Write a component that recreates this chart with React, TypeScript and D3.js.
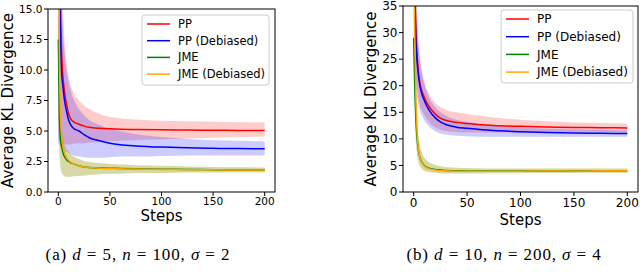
import * as d3 from 'd3'

// step positions shared by every series
const steps = [0, 1, 2, 3, 4, 5, 6, 8, 10, 12, 15, 20, 25, 30, 40, 50, 60, 75, 100, 125, 150, 175, 200]

// (a) d=5, n=100, sigma=2
const ppA = [40, 25, 16, 12, 10, 9, 8.2, 7.2, 6.4, 6.0, 5.75, 5.55, 5.4, 5.3, 5.22, 5.18, 5.15, 5.12, 5.1, 5.08, 5.06, 5.05, 5.05]
const ppAHi = [60, 40, 25, 18, 15.5, 14, 12.5, 10.5, 9.5, 8.8, 8.1, 7.5, 7.1, 6.8, 6.4, 6.15, 6.05, 5.95, 5.85, 5.8, 5.75, 5.72, 5.7]
const ppALo = [4.5, 4.2, 4, 3.9, 3.9, 3.9, 3.9, 3.9, 3.9, 3.9, 3.95, 4, 4, 4.05, 4.1, 4.15, 4.2, 4.25, 4.3, 4.38, 4.45, 4.5, 4.55]
const ppDbA = [40, 20, 13, 10, 9, 8.2, 7.5, 6.6, 5.9, 5.5, 5.2, 5.0, 4.7, 4.45, 4.2, 4.0, 3.88, 3.78, 3.68, 3.62, 3.58, 3.56, 3.55]
const ppDbAHi = [60, 35, 22, 16, 14, 12.5, 11.5, 10, 9, 8.3, 7.6, 6.8, 6.3, 5.9, 5.5, 5.2, 5, 4.75, 4.5, 4.35, 4.25, 4.2, 4.15]
const ppDbALo = [4, 3.9, 3.8, 3.7, 3.6, 3.5, 3.4, 3.3, 3.2, 3.1, 3, 2.9, 2.85, 2.8, 2.8, 2.85, 2.9, 2.9, 2.95, 3, 3, 3, 3]
const jmeA = [12.5, 6.5, 4.5, 3.8, 3.4, 3.1, 2.9, 2.65, 2.5, 2.4, 2.3, 2.15, 2.05, 2, 1.97, 1.95, 1.93, 1.9, 1.87, 1.85, 1.82, 1.8, 1.8]
const jmeAHi = [20, 10, 6.5, 5.2, 4.6, 4.2, 3.9, 3.5, 3.3, 3.1, 2.9, 2.7, 2.55, 2.45, 2.35, 2.3, 2.25, 2.2, 2.15, 2.1, 2.05, 2.02, 2]
const jmeALo = [6, 3, 2, 1.6, 1.45, 1.35, 1.3, 1.25, 1.25, 1.25, 1.3, 1.32, 1.35, 1.4, 1.45, 1.5, 1.5, 1.55, 1.55, 1.6, 1.6, 1.6, 1.6]
const jmeDbA = [30, 12, 6.5, 4.8, 4, 3.5, 3.2, 2.8, 2.6, 2.45, 2.3, 2.15, 2.05, 2, 1.95, 1.92, 1.9, 1.88, 1.85, 1.83, 1.82, 1.8, 1.8]
const jmeDbAHi = [50, 18, 9, 6, 4.8, 4.2, 3.9, 3.5, 3.3, 3.1, 2.9, 2.7, 2.55, 2.45, 2.35, 2.3, 2.25, 2.2, 2.15, 2.1, 2.05, 2.02, 2]
const jmeDbALo = [10, 5, 3, 2, 1.6, 1.4, 1.3, 1.25, 1.25, 1.25, 1.3, 1.32, 1.35, 1.4, 1.45, 1.5, 1.5, 1.55, 1.55, 1.6, 1.6, 1.6, 1.6]

// (b) d=10, n=200, sigma=4
const ppB = [60, 40, 31, 26.5, 23.5, 21.5, 20.3, 18.8, 17.8, 16.9, 15.9, 14.7, 13.9, 13.5, 13.1, 12.9, 12.7, 12.5, 12.35, 12.25, 12.15, 12.1, 12.05]
const ppBHi = [80, 55, 42, 34, 30, 27, 25.2, 22.5, 20.8, 19.5, 18.2, 16.8, 16, 15.5, 15, 14.7, 14.4, 14, 13.6, 13.3, 13.1, 13, 12.9]
const ppBLo = [40, 28, 22, 20, 18.5, 17.2, 16.3, 15.2, 14.5, 13.8, 13, 12.2, 11.7, 11.5, 11.3, 11.2, 11.2, 11.2, 11.2, 11.2, 11.2, 11.2, 11.2]
const ppDbB = [60, 38, 29, 25, 22.8, 21, 19.8, 18.2, 17.2, 16.3, 15.2, 14, 13.2, 12.7, 12.2, 12, 11.8, 11.55, 11.35, 11.2, 11.1, 11.05, 11]
const ppDbBHi = [80, 52, 40, 33, 29, 26.5, 24.5, 22, 20.3, 19, 17.5, 16, 15, 14.4, 13.6, 13.2, 12.9, 12.5, 12.2, 11.9, 11.8, 11.7, 11.6]
const ppDbBLo = [40, 26, 20, 18, 17, 16, 15.2, 14.2, 13.5, 12.9, 12.2, 11.5, 11, 10.8, 10.6, 10.5, 10.4, 10.4, 10.4, 10.4, 10.4, 10.4, 10.4]
const jmeB = [29, 20, 14, 10.5, 8.5, 7.2, 6.4, 5.5, 5, 4.7, 4.45, 4.25, 4.15, 4.05, 4, 3.95, 3.95, 3.95, 3.95, 3.97, 3.98, 4, 4]
const jmeBHi = [36, 27, 20, 14.5, 11.5, 9.8, 8.6, 7.2, 6.5, 6, 5.5, 5.1, 4.85, 4.7, 4.55, 4.5, 4.45, 4.4, 4.4, 4.4, 4.4, 4.4, 4.4]
const jmeBLo = [22, 14, 9.5, 7.2, 6, 5.2, 4.8, 4.3, 4, 3.85, 3.7, 3.6, 3.55, 3.5, 3.5, 3.5, 3.5, 3.52, 3.55, 3.57, 3.58, 3.6, 3.6]
const jmeDbB = [45, 30, 18, 12, 9, 7.4, 6.4, 5.4, 4.9, 4.6, 4.35, 4.15, 4.05, 3.98, 3.92, 3.9, 3.9, 3.9, 3.92, 3.95, 3.97, 3.98, 4]
const jmeDbBHi = [55, 38, 24, 16, 12, 9.8, 8.6, 7.2, 6.5, 6, 5.5, 5.1, 4.85, 4.7, 4.55, 4.5, 4.45, 4.4, 4.4, 4.4, 4.4, 4.4, 4.4]
const jmeDbBLo = [35, 22, 12, 8, 6.2, 5.2, 4.8, 4.3, 4, 3.85, 3.7, 3.6, 3.55, 3.5, 3.5, 3.5, 3.5, 3.52, 3.55, 3.57, 3.58, 3.6, 3.6]

const seriesNames = ['PP', 'PP (Debiased)', 'JME', 'JME (Debiased)']
const seriesColors = ['#ff0000', '#0000ff', '#008000', '#ffa500']
const xTicks = [0, 50, 100, 150, 200]
const yTicksA = [0, 2.5, 5, 7.5, 10, 12.5, 15]
const yTicksB = [0, 5, 10, 15, 20, 25, 30, 35]

type Series = { mean: number[]; hi: number[]; lo: number[] }

const panelA: Series[] = [
  { mean: ppA, hi: ppAHi, lo: ppALo },
  { mean: ppDbA, hi: ppDbAHi, lo: ppDbALo },
  { mean: jmeA, hi: jmeAHi, lo: jmeALo },
  { mean: jmeDbA, hi: jmeDbAHi, lo: jmeDbALo },
]
const panelB: Series[] = [
  { mean: ppB, hi: ppBHi, lo: ppBLo },
  { mean: ppDbB, hi: ppDbBHi, lo: ppDbBLo },
  { mean: jmeB, hi: jmeBHi, lo: jmeBLo },
  { mean: jmeDbB, hi: jmeDbBHi, lo: jmeDbBLo },
]

const font = 'DejaVu Sans, sans-serif'

type PanelProps = {
  id: string
  data: Series[]
  left: number
  right: number
  top: number
  bottom: number
  yMax: number
  yTicks: number[]
  yFmt: (v: number) => string
  tickSize: number
  tickGap: number
  ylabelX: number
  xlabelY: number
  legend: { x: number; y: number; w: number; h: number; rowH: number; fs: number }
}

function Panel(p: PanelProps) {
  const x = d3.scaleLinear().domain([-10, 210]).range([p.left, p.right])
  const y = d3.scaleLinear().domain([0, p.yMax]).range([p.bottom, p.top])
  const line = (vals: number[]) =>
    d3.line<number>().x((_, i) => x(steps[i])).y(v => y(v)).curve(d3.curveMonotoneX)(vals) ?? ''
  const area = (s: Series) =>
    d3.area<number>()
      .x((_, i) => x(steps[i]))
      .y0((_, i) => y(s.lo[i]))
      .y1((_, i) => y(s.hi[i]))
      .curve(d3.curveMonotoneX)(s.mean) ?? ''
  const lg = p.legend
  return (
    <g fontFamily={font}>
      <defs>
        <clipPath id={p.id}>
          <rect x={p.left} y={p.top} width={p.right - p.left} height={p.bottom - p.top} />
        </clipPath>
      </defs>
      <g clipPath={`url(#${p.id})`}>
        {p.data.map((s, i) => (
          <path key={'a' + i} d={area(s)} fill={seriesColors[i]} fillOpacity={0.2} stroke="none" />
        ))}
        {p.data.map((s, i) => (
          <path key={'l' + i} d={line(s.mean)} fill="none" stroke={seriesColors[i]} strokeWidth={1.5} />
        ))}
      </g>
      <rect x={p.left} y={p.top} width={p.right - p.left} height={p.bottom - p.top}
        fill="none" stroke="#000" strokeWidth={1} />
      {xTicks.map(t => (
        <g key={'x' + t} transform={`translate(${x(t)},${p.bottom})`}>
          <line y2={4} stroke="#000" />
          <text y={p.tickGap} textAnchor="middle" fontSize={p.tickSize}>{t}</text>
        </g>
      ))}
      {p.yTicks.map(t => (
        <g key={'y' + t} transform={`translate(${p.left},${y(t)})`}>
          <line x2={-4} stroke="#000" />
          <text x={-5.5} dy="0.35em" textAnchor="end" fontSize={p.tickSize}>{p.yFmt(t)}</text>
        </g>
      ))}
      <text transform={`translate(${p.ylabelX},${(p.top + p.bottom) / 2}) rotate(-90)`}
        textAnchor="middle" fontSize={15}>Average KL Divergence</text>
      <text x={(p.left + p.right) / 2} y={p.xlabelY} textAnchor="middle" fontSize={15}>Steps</text>
      <rect x={lg.x} y={lg.y} width={lg.w} height={lg.h} rx={3} fill="#fff" fillOpacity={0.8}
        stroke="#cccccc" />
      {seriesNames.map((n, i) => {
        const cy = lg.y + 9 + i * lg.rowH
        return (
          <g key={n}>
            <line x1={lg.x + 5} x2={lg.x + 28} y1={cy} y2={cy} stroke={seriesColors[i]} strokeWidth={1.5} />
            <text x={lg.x + 36} y={cy} dy="0.35em" fontSize={lg.fs}>{n}</text>
          </g>
        )
      })}
    </g>
  )
}

function Caption({ cx, label, d, n, s }: { cx: number; label: string; d: number; n: number; s: number }) {
  return (
    <text x={cx} y={260} textAnchor="middle" fontFamily="Liberation Serif, serif" fontSize={17}
      letterSpacing={0.9}>
      <tspan>{label} </tspan>
      <tspan fontStyle="italic">d</tspan>
      <tspan>{` = ${d}, `}</tspan>
      <tspan fontStyle="italic">n</tspan>
      <tspan>{` = ${n}, `}</tspan>
      <tspan fontStyle="italic">σ</tspan>
      <tspan>{` = ${s}`}</tspan>
    </text>
  )
}

export default function App() {
  return (
    <svg width={640} height={279} style={{ position: 'absolute', left: 0, top: 0 }}>
      <rect width={640} height={279} fill="#fff" />
      <Panel id="clipA" data={panelA} left={48} right={275} top={9} bottom={192}
        yMax={15} yTicks={yTicksA} yFmt={v => v.toFixed(1)} tickSize={10.5} tickGap={12.5}
        ylabelX={13} xlabelY={221}
        legend={{ x: 142, y: 15, w: 127, h: 70, rowH: 16.7, fs: 11.5 }} />
      <Panel id="clipB" data={panelB} left={403} right={638} top={6} bottom={192}
        yMax={35} yTicks={yTicksB} yFmt={v => String(v)} tickSize={12} tickGap={14.5}
        ylabelX={376} xlabelY={225}
        legend={{ x: 501, y: 10, w: 132, h: 73, rowH: 17.7, fs: 12 }} />
      <Caption cx={138} label="(a)" d={5} n={100} s={2} />
      <Caption cx={504} label="(b)" d={10} n={200} s={4} />
    </svg>
  )
}
